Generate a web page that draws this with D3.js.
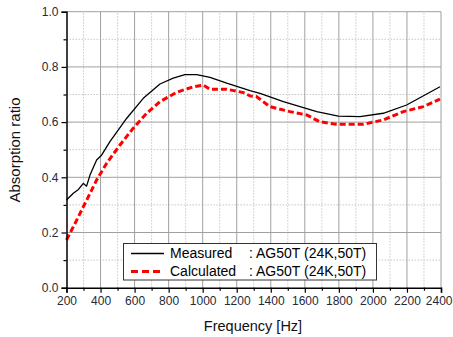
<!DOCTYPE html>
<html>
<head>
<meta charset="utf-8">
<script src="https://cdn.jsdelivr.net/npm/d3@7/dist/d3.min.js"></script>
<style>
  html, body { margin: 0; padding: 0; background: #fff; }
  svg { display: block; font-family: Arial, "Liberation Sans", sans-serif; }
</style>
</head>
<body>
<svg id="chart" width="453" height="337"></svg>
<script>
// Measured absorption ratio (frequency in Hz, ratio)
const measuredFreq = [200, 240, 270, 299, 318, 338, 377, 407, 455, 554, 651, 749, 827, 896, 965, 1043, 1141, 1278, 1337, 1474, 1670, 1797, 1924, 2061, 2198, 2394];
const measuredVal  = [0.318, 0.342, 0.356, 0.378, 0.368, 0.408, 0.463, 0.481, 0.529, 0.614, 0.686, 0.738, 0.759, 0.772, 0.772, 0.762, 0.741, 0.714, 0.704, 0.674, 0.638, 0.622, 0.620, 0.632, 0.662, 0.728];

// Calculated absorption ratio
const calcFreq = [200, 260, 319, 377, 436, 514, 592, 671, 749, 847, 945, 1004, 1043, 1141, 1239, 1278, 1317, 1395, 1513, 1611, 1689, 1787, 1944, 2061, 2179, 2296, 2394];
const calcVal  = [0.173, 0.245, 0.318, 0.390, 0.451, 0.517, 0.578, 0.632, 0.674, 0.708, 0.728, 0.734, 0.719, 0.719, 0.707, 0.695, 0.692, 0.656, 0.638, 0.626, 0.601, 0.592, 0.592, 0.608, 0.638, 0.656, 0.683];

const xTicks = [200, 400, 600, 800, 1000, 1200, 1400, 1600, 1800, 2000, 2200, 2400];
const yTicks = [0.0, 0.2, 0.4, 0.6, 0.8, 1.0];
const seriesNames = ["Measured", "Calculated"];
const seriesSample = ": AG50T (24K,50T)";

const svg = d3.select("#chart");
const plotLeft = 66.5, plotRight = 441, plotTop = 11.7, plotBottom = 287.7;

const x = d3.scaleLinear().domain([200, 2400]).range([plotLeft, plotRight]);
const y = d3.scaleLinear().domain([0, 1]).range([plotBottom, plotTop]);

const grid = svg.append("g");
// minor grid (dotted)
d3.range(300, 2400, 200).forEach(v => {
  grid.append("line").attr("x1", x(v)).attr("x2", x(v)).attr("y1", y(0)).attr("y2", y(1))
    .attr("stroke", "#c8c8c8").attr("stroke-width", 1).attr("stroke-dasharray", "1.5,1.5");
});
[0.1, 0.3, 0.5, 0.7, 0.9].forEach(v => {
  grid.append("line").attr("x1", x(200)).attr("x2", x(2400)).attr("y1", y(v)).attr("y2", y(v))
    .attr("stroke", "#c8c8c8").attr("stroke-width", 1).attr("stroke-dasharray", "1.5,1.5");
});
// major grid
xTicks.slice(1).forEach(v => {
  grid.append("line").attr("x1", x(v)).attr("x2", x(v)).attr("y1", y(0)).attr("y2", y(1))
    .attr("stroke", "#a0a0a0").attr("stroke-width", 1);
});
yTicks.slice(1).forEach(v => {
  grid.append("line").attr("x1", x(200)).attr("x2", x(2400)).attr("y1", y(v)).attr("y2", y(v))
    .attr("stroke", "#a0a0a0").attr("stroke-width", 1);
});

// curves
const lineM = d3.line().x((d, i) => x(measuredFreq[i])).y(d => y(d));
svg.append("path").datum(measuredVal).attr("d", lineM)
  .attr("fill", "none").attr("stroke", "#000").attr("stroke-width", 1.3).attr("stroke-linejoin", "round");

const lineC = d3.line().x((d, i) => x(calcFreq[i])).y(d => y(d));
svg.append("path").datum(calcVal).attr("d", lineC)
  .attr("fill", "none").attr("stroke", "#ff0000").attr("stroke-width", 3).attr("stroke-dasharray", "6,3");

// axes
const xAxis = d3.axisBottom(x).tickValues(xTicks).tickFormat(d3.format("d")).tickSizeOuter(0).tickSize(5).tickPadding(4);
const gx = svg.append("g").attr("transform", `translate(0,${plotBottom})`).call(xAxis);
const yAxis = d3.axisLeft(y).tickValues(yTicks).tickFormat(d3.format(".1f")).tickSizeOuter(0).tickSize(5).tickPadding(3);
const gy = svg.append("g").attr("transform", `translate(${plotLeft},0)`).call(yAxis);
[gx, gy].forEach(g => {
  g.select(".domain").attr("stroke", "#000").attr("stroke-width", 1.5);
  g.selectAll(".tick line").attr("stroke", "#000").attr("stroke-width", 1.2);
  g.selectAll(".tick text").attr("fill", "#262a36").attr("font-size", 12).attr("font-family", "Arial, 'Liberation Sans', sans-serif");
});
// the last x label sits against the right edge; keep it inside the frame
gx.selectAll(".tick text").filter(d => d === 2400).attr("text-anchor", "end").attr("dx", 11);
// minor ticks
const minorX = d3.axisBottom(x).tickValues(d3.range(300, 2400, 200)).tickFormat("").tickSize(3).tickSizeOuter(0);
const gmx = svg.append("g").attr("transform", `translate(0,${plotBottom})`).call(minorX);
const minorY = d3.axisLeft(y).tickValues([0.1, 0.3, 0.5, 0.7, 0.9]).tickFormat("").tickSize(3).tickSizeOuter(0);
const gmy = svg.append("g").attr("transform", `translate(${plotLeft},0)`).call(minorY);
[gmx, gmy].forEach(g => {
  g.select(".domain").remove();
  g.selectAll(".tick line").attr("stroke", "#000").attr("stroke-width", 1.2);
});

// axis titles
svg.append("text").attr("x", 253).attr("y", 331).attr("text-anchor", "middle")
  .attr("font-size", 14.5).attr("fill", "#111").text("Frequency [Hz]");
svg.append("text").attr("transform", `translate(20,150) rotate(-90)`).attr("text-anchor", "middle")
  .attr("font-size", 15).attr("fill", "#111").text("Absorption ratio");

// legend
const lg = svg.append("g");
lg.append("rect").attr("x", 123.5).attr("y", 243.5).attr("width", 253).attr("height", 36.5)
  .attr("fill", "#fff").attr("stroke", "#333").attr("stroke-width", 1);
const rows = [
  { name: seriesNames[0], color: "#000", w: 1.3, dash: null, yy: 253.5 },
  { name: seriesNames[1], color: "#ff0000", w: 3, dash: "7,4", yy: 271.5 }
];
rows.forEach(r => {
  lg.append("line").attr("x1", 131).attr("x2", 164).attr("y1", r.yy).attr("y2", r.yy)
    .attr("stroke", r.color).attr("stroke-width", r.w).attr("stroke-dasharray", r.dash);
  lg.append("text").attr("x", 170).attr("y", r.yy + 4.3).attr("font-size", 14).attr("fill", "#000").text(r.name);
  lg.append("text").attr("x", 249).attr("y", r.yy + 4.3).attr("font-size", 14).attr("fill", "#000").text(seriesSample);
});
</script>
</body>
</html>
